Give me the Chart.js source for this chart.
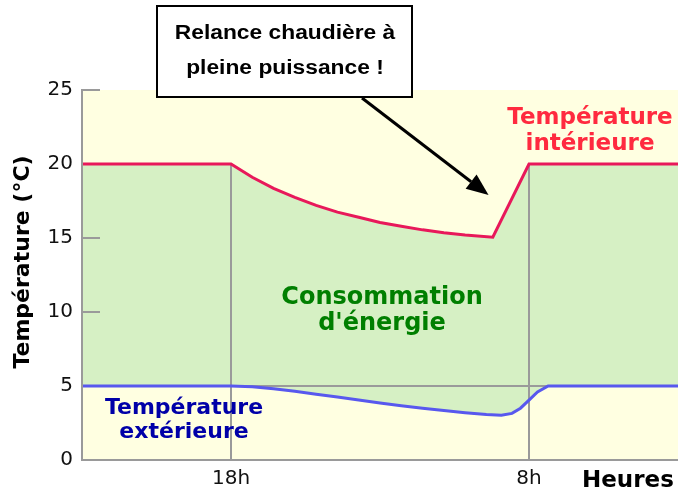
<!DOCTYPE html>
<html><head><meta charset="utf-8">
<script src="https://cdn.jsdelivr.net/npm/chart.js@4/dist/chart.umd.min.js"></script>
<style>html,body{margin:0;padding:0;background:#fff}canvas{display:block}</style>
</head><body>
<canvas id="c" width="678" height="490"></canvas>
<script>
// ---- data (hours on a continuous clock: 24 = midnight, 32 = 8h next morning) ----
const interiorHours = [11, 18, 19, 20, 21, 22, 23, 24, 25, 26, 27, 28, 29, 30.3, 32, 39];
const interiorTemps = [20, 20, 19.1, 18.35, 17.75, 17.2, 16.75, 16.4, 16.05, 15.8, 15.55, 15.35, 15.2, 15.05, 20, 20];
const exteriorHours = [11, 18, 19, 20, 21, 22, 23, 24, 25, 26, 27, 28, 29, 30, 30.7, 31.2, 31.6, 32, 32.4, 32.9, 39];
const exteriorTemps = [5, 5, 4.95, 4.82, 4.65, 4.45, 4.25, 4.05, 3.85, 3.67, 3.5, 3.35, 3.2, 3.08, 3.03, 3.15, 3.5, 4.05, 4.6, 5, 5];
const xTickValues = [18, 32];
const xTickLabels = ['18h', '8h'];
const yTickValues = [0, 5, 10, 15, 20, 25];
const guideHours = [18, 32];
const guideTop = 20;
const refLevel = 5;
const arrowTip = [30.1, 17.9];

// ---- styles / layout ----
const C = {
  bg: '#FFFFE1', fill: '#D6F0C4', red: '#E8185A', blue: '#5858EE', grey: '#9a9a9a',
  redText: '#FF2A3F', blueText: '#0000A8', greenText: '#007F00'
};
const toPts = (xs, ys) => xs.map((h, i) => ({x: h, y: ys[i]}));

const decor = {
  id: 'decor',
  beforeDraw(chart) {
    const {ctx, chartArea: a} = chart;
    ctx.save();
    ctx.fillStyle = C.bg;
    ctx.fillRect(a.left, a.top, a.right - a.left, a.bottom - a.top);
    ctx.restore();
  },
  beforeDatasetsDraw(chart) {
    const {ctx, chartArea: a, scales: {x, y}} = chart;
    ctx.save();
    ctx.strokeStyle = C.grey; ctx.lineWidth = 2;
    const seg = (x1, y1, x2, y2) => { ctx.beginPath(); ctx.moveTo(x1, y1); ctx.lineTo(x2, y2); ctx.stroke(); };
    const yr = y.getPixelForValue(refLevel);
    seg(a.left, yr, a.right, yr);
    guideHours.forEach(h => {
      const px = x.getPixelForValue(h);
      seg(px, y.getPixelForValue(0), px, y.getPixelForValue(guideTop));
    });
    y.ticks.forEach(t => {
      const py = y.getPixelForValue(t.value);
      seg(a.left, py, a.left + 18, py);
    });
    ctx.restore();
  },
  afterDraw(chart) {
    const {ctx, chartArea: a, scales: {x, y}} = chart;
    ctx.save();
    ctx.textAlign = 'center'; ctx.textBaseline = 'middle';
    // y axis title
    ctx.save();
    ctx.translate(23, 262); ctx.rotate(-Math.PI / 2);
    ctx.font = 'bold 22px "DejaVu Sans"'; ctx.fillStyle = '#000';
    ctx.fillText('Température (°C)', 0, 0);
    ctx.restore();
    // x axis name
    ctx.font = 'bold 23px "DejaVu Sans"'; ctx.fillStyle = '#000'; ctx.textAlign = 'left';
    ctx.fillText('Heures', 582, 481);
    ctx.textAlign = 'center';
    // series labels
    ctx.font = 'bold 23px "DejaVu Sans"'; ctx.fillStyle = C.redText;
    ctx.fillText('Température', 590, 118);
    ctx.fillText('intérieure', 590, 144);
    ctx.font = 'bold 22px "DejaVu Sans"'; ctx.fillStyle = C.blueText;
    ctx.fillText('Température', 184, 408);
    ctx.fillText('extérieure', 184, 432);
    ctx.font = 'bold 24px "DejaVu Sans"'; ctx.fillStyle = C.greenText;
    ctx.fillText('Consommation', 382, 298);
    ctx.fillText("d'énergie", 382, 324);
    // callout box
    ctx.fillStyle = '#fff'; ctx.strokeStyle = '#000'; ctx.lineWidth = 2;
    ctx.fillRect(157, 6, 255, 91); ctx.strokeRect(157, 6, 255, 91);
    ctx.fillStyle = '#000';
    ctx.font = 'bold 20px "Liberation Sans"';
    [['Relance chaudière à', 33], ['pleine puissance !', 68]].forEach(([t, ty]) => {
      ctx.save(); ctx.translate(285, ty); ctx.scale(1.14, 1); ctx.fillText(t, 0, 0); ctx.restore();
    });
    // arrow
    const tx = x.getPixelForValue(arrowTip[0]), ty = y.getPixelForValue(arrowTip[1]);
    const sx = 362, sy = 98;
    const ang = Math.atan2(ty - sy, tx - sx);
    const hl = 22, hw = 9;
    const bx = tx - hl * Math.cos(ang), by = ty - hl * Math.sin(ang);
    ctx.strokeStyle = '#000'; ctx.lineWidth = 3;
    ctx.beginPath(); ctx.moveTo(sx, sy); ctx.lineTo(bx, by); ctx.stroke();
    ctx.beginPath();
    ctx.moveTo(tx, ty);
    ctx.lineTo(bx + hw * Math.sin(ang), by - hw * Math.cos(ang));
    ctx.lineTo(bx - hw * Math.sin(ang), by + hw * Math.cos(ang));
    ctx.closePath(); ctx.fill();
    ctx.restore();
  }
};

new Chart(document.getElementById('c'), {
  type: 'line',
  data: {
    datasets: [
      { label: 'Température intérieure', data: toPts(interiorHours, interiorTemps),
        borderColor: C.red, borderWidth: 3, pointRadius: 0, tension: 0,
        fill: { target: 1 }, backgroundColor: C.fill },
      { label: 'Température extérieure', data: toPts(exteriorHours, exteriorTemps),
        borderColor: C.blue, borderWidth: 3, pointRadius: 0, tension: 0, fill: false }
    ]
  },
  options: {
    responsive: false, animation: false, devicePixelRatio: 1,
    layout: { padding: { top: 90, right: 0, left: 0, bottom: 0 } },
    plugins: { legend: { display: false }, tooltip: { enabled: false }, filler: { drawTime: 'beforeDatasetsDraw' } },
    scales: {
      x: {
        type: 'linear', min: 11, max: 39,
        afterBuildTicks: s => { s.ticks = xTickValues.map(v => ({ value: v })); },
        ticks: { callback: v => xTickLabels[xTickValues.indexOf(v)], font: { family: 'DejaVu Sans', size: 20 },
                 color: '#111', padding: 7, maxRotation: 0, autoSkip: false },
        grid: { display: false, drawTicks: false },
        border: { display: true, color: C.grey, width: 2, z: 1 },
        afterFit: s => { s.height = 30; }
      },
      y: {
        min: 0, max: 25,
        afterBuildTicks: s => { s.ticks = yTickValues.map(v => ({ value: v })); },
        ticks: { font: { family: 'DejaVu Sans', size: 20 }, color: '#111', padding: 9 },
        grid: { display: false, drawTicks: false },
        border: { display: true, color: C.grey, width: 2, z: 1 },
        afterFit: s => { s.width = 82; }
      }
    }
  },
  plugins: [decor]
});
</script>
</body></html>
